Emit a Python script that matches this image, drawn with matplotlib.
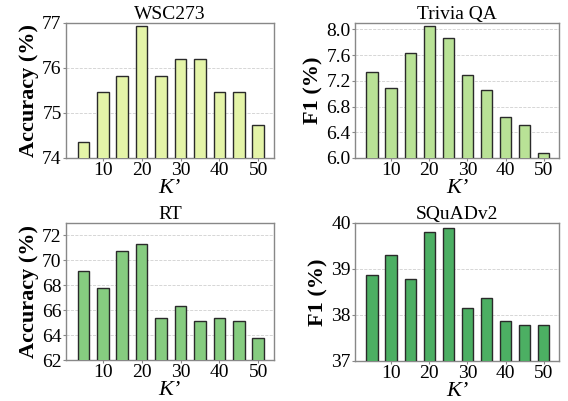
import matplotlib
matplotlib.use("Agg")
import matplotlib.pyplot as plt

plt.rcParams['font.family'] = ['Liberation Serif', 'DejaVu Serif']

k_values = [5, 10, 15, 20, 25, 30, 35, 40, 45, 50]
wsc273 = [74.36, 75.46, 75.82, 76.92, 75.82, 76.19, 76.19, 75.46, 75.46, 74.73]
trivia = [7.33, 7.08, 7.63, 8.05, 7.86, 7.29, 7.06, 6.64, 6.52, 6.07]
rt = [69.15, 67.78, 70.77, 71.35, 65.39, 66.37, 65.17, 65.39, 65.17, 63.81]
squad = [38.86, 39.30, 38.78, 39.81, 39.89, 38.15, 38.36, 37.86, 37.77, 37.77]

panels = [
    dict(title='WSC273', vals=wsc273, ylabel='Accuracy (%)', ylim=(74, 77),
         yticks=[74, 75, 76, 77], fmt='{:.0f}', color='#e4f4a8',
         pos=[0.116, 0.606, 0.366, 0.337]),
    dict(title='Trivia QA', vals=trivia, ylabel='F1 (%)', ylim=(6.0, 8.1),
         yticks=[6.0, 6.4, 6.8, 7.2, 7.6, 8.0], fmt='{:.1f}', color='#b9e296',
         pos=[0.625, 0.606, 0.359, 0.337]),
    dict(title='RT', vals=rt, ylabel='Accuracy (%)', ylim=(62, 73),
         yticks=[62, 64, 66, 68, 70, 72], fmt='{:.0f}', color='#86cc80',
         pos=[0.116, 0.102, 0.366, 0.342]),
    dict(title='SQuADv2', vals=squad, ylabel='F1 (%)', ylim=(37, 40),
         yticks=[37, 38, 39, 40], fmt='{:.0f}', color='#4caf63',
         pos=[0.625, 0.100, 0.359, 0.344]),
]

fig = plt.figure(figsize=(5.68, 4.01), dpi=100)
for p in panels:
    ax = fig.add_axes(p['pos'])
    ax.bar(k_values, p['vals'], width=3, color=p['color'], edgecolor='#2a2a2a',
           linewidth=1.0, zorder=3)
    ax.set_ylim(*p['ylim'])
    ax.set_xlim(0.5, 54)
    ax.set_yticks(p['yticks'])
    ax.set_yticklabels([p['fmt'].format(v) for v in p['yticks']])
    ax.set_xticks([10, 20, 30, 40, 50])
    ax.tick_params(axis='both', labelsize=14, length=2, color='#888888', pad=1)
    ax.grid(axis='y', linestyle='--', color='#d0d0d0', linewidth=0.6, zorder=0)
    for s in ax.spines.values():
        s.set_color('#888888')
        s.set_linewidth(1.0)
    ax.set_title(p['title'], fontsize=14, pad=2)
    ax.set_ylabel(p['ylabel'], fontsize=16, fontweight='bold', labelpad=2)
    ax.set_xlabel('K\u2019', fontsize=16, style='italic', labelpad=0)

fig.savefig('out.png', dpi=100)
